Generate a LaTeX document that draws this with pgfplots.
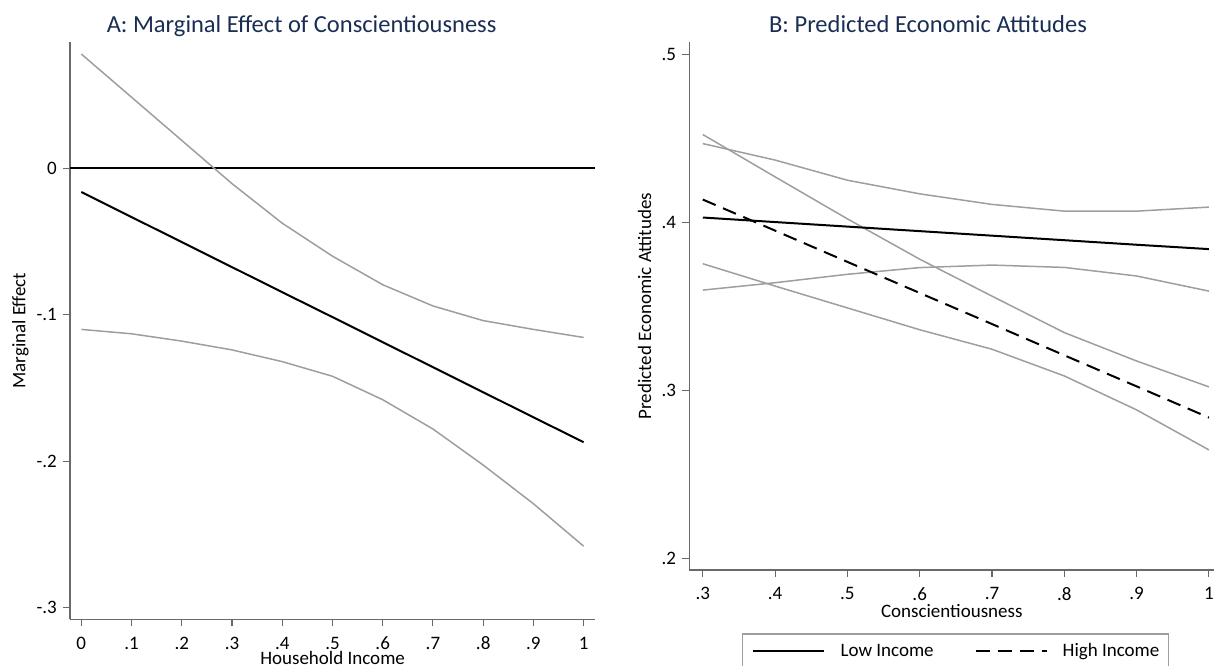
\documentclass[border=0pt]{standalone}
\usepackage{fontspec}
\setmainfont{Carlito}
\usepackage{pgfplots}
\usepackage{pgfplotstable}
\pgfplotsset{compat=1.18}

\definecolor{titlenavy}{RGB}{26,46,84}
\definecolor{cigray}{RGB}{158,158,158}
\definecolor{axgray}{RGB}{105,105,105}

% Panel A: marginal effect of conscientiousness with 95% bounds
\pgfplotstableread{
x    est      lo       hi
0    -0.0162  -0.1100  0.0780
0.1  -0.0333  -0.1130  0.0485
0.2  -0.0504  -0.1180  0.0190
0.3  -0.0675  -0.1240  -0.0105
0.4  -0.0846  -0.1320  -0.0375
0.5  -0.1016  -0.1420  -0.0600
0.6  -0.1187  -0.1580  -0.0795
0.7  -0.1358  -0.1780  -0.0940
0.8  -0.1529  -0.2026  -0.1040
0.9  -0.1700  -0.2290  -0.1100
1    -0.1870  -0.2580  -0.1155
}\margtab

% Panel B: predicted attitudes for low and high income with 95% bounds
\pgfplotstableread{
x    low     lowlo   lowhi   high    highlo  highhi
0.3  0.4028  0.3596  0.4468  0.4135  0.3753  0.4522
0.4  0.4001  0.3640  0.4370  0.3950  0.3620  0.4270
0.5  0.3974  0.3690  0.4250  0.3764  0.3490  0.4020
0.6  0.3947  0.3730  0.4169  0.3579  0.3360  0.3780
0.7  0.3920  0.3745  0.4106  0.3394  0.3244  0.3560
0.8  0.3893  0.3731  0.4066  0.3208  0.3085  0.3343
0.9  0.3866  0.3680  0.4066  0.3023  0.2883  0.3174
1    0.3840  0.3590  0.4090  0.2837  0.2645  0.3020
}\predtab

\pgfplotsset{
  stata/.style={
    scale only axis,
    anchor=south west,
    axis lines*=left,
    axis line style={-, draw=axgray, line width=1.3bp},
    tick align=outside,
    major tick length=7bp,
    tick style={draw=axgray, line width=1.1bp},
    minor tick num=0,
    ticklabel style={font=\fontsize{19bp}{22bp}\selectfont, inner sep=0pt},
    xticklabel style={anchor=north, yshift=-10.4bp},
    yticklabel style={anchor=east, xshift=-6bp},
    label style={font=\fontsize{19bp}{22bp}\selectfont},
    title style={font=\fontsize{24.5bp}{28bp}\selectfont, text=titlenavy, anchor=base},
    ylabel style={at={(rel axis cs:0,0.5)}, anchor=base},
    xlabel style={at={(rel axis cs:0.5,0)}, anchor=base},
    clip=false,
  },
  ci/.style={draw=cigray, line width=1.5bp},
  est/.style={draw=black, line width=2bp},
}

\begin{document}
\begin{tikzpicture}

\begin{axis}[
  stata,
  at={(70bp,46.7bp)},
  width=525.2bp, height=577.3bp,
  xmin=-0.0225, xmax=1.023,
  ymin=-0.3079, ymax=0.0862,
  xtick={0,0.1,0.2,0.3,0.4,0.5,0.6,0.7,0.8,0.9,1},
  xticklabels={0,.1,.2,.3,.4,.5,.6,.7,.8,.9,1},
  ytick={-0.3,-0.2,-0.1,0},
  yticklabels={-.3,-.2,-.1,0},
  title={A: Marginal Effect of Conscientiousness},
  title style={at={(0.441,1)}, yshift=4bp},
  xlabel={Household Income},
  xlabel style={yshift=-44.7bp},
  ylabel={Marginal Effect},
  ylabel style={yshift=44.5bp},
]
\addplot[black, line width=2bp] coordinates {(-0.0225,0) (1.023,0)};
\addplot[ci] table[x=x, y=hi] {\margtab};
\addplot[ci] table[x=x, y=lo] {\margtab};
\addplot[est] table[x=x, y=est] {\margtab};
\end{axis}

\begin{axis}[
  stata,
  at={(689.2bp,96bp)},
  width=525.2bp, height=527.7bp,
  xmin=0.2812, xmax=1.0076,
  ymin=0.193, ymax=0.5071,
  xtick={0.3,0.4,0.5,0.6,0.7,0.8,0.9,1},
  xticklabels={.3,.4,.5,.6,.7,.8,.9,1},
  ytick={0.2,0.3,0.4,0.5},
  yticklabels={.2,.3,.4,.5},
  title={B: Predicted Economic Attitudes},
  title style={at={(0.4547,1)}, yshift=4bp},
  xlabel={Conscientiousness},
  xlabel style={yshift=-47bp},
  ylabel={Predicted Economic Attitudes},
  ylabel style={yshift=38.2bp},
  legend columns=2,
  legend style={
    at={(0.507,-0.12)}, anchor=north,
    draw=cigray, line width=1.3bp,
    inner xsep=9bp, inner ysep=9bp,
    font=\fontsize{19bp}{22bp}\selectfont,
    nodes={inner sep=0pt, anchor=base west, text depth=8bp},
    /tikz/column 1/.style={column sep=16bp},
    /tikz/column 2/.style={column sep=41bp},
    /tikz/column 3/.style={column sep=15bp},
  },
  legend image code/.code={\draw[#1, line width=2bp] (0bp,5bp) -- (71bp,5bp);},
]
\addplot[ci, forget plot] table[x=x, y=lowhi] {\predtab};
\addplot[ci, forget plot] table[x=x, y=lowlo] {\predtab};
\addplot[ci, forget plot] table[x=x, y=highhi] {\predtab};
\addplot[ci, forget plot] table[x=x, y=highlo] {\predtab};
\addplot[est] table[x=x, y=low] {\predtab};
\addlegendentry{Low Income}
\addplot[est, dash pattern=on 14bp off 8bp] table[x=x, y=high] {\predtab};
\addlegendentry{High Income}
\end{axis}

% page extent: the legend frame runs past the lower edge
\pgfresetboundingbox
\useasboundingbox (0bp,0bp) rectangle (1216bp,666bp);
\end{tikzpicture}
\end{document}
